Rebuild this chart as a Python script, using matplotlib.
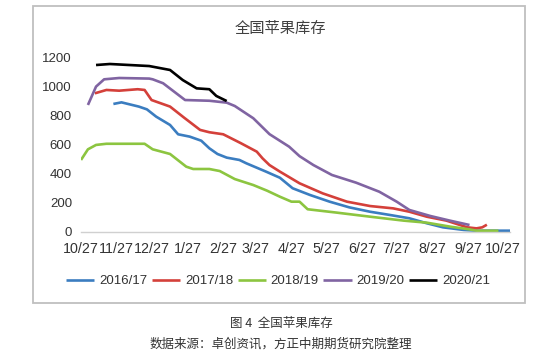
import matplotlib
matplotlib.use("Agg")
import matplotlib.pyplot as plt
from matplotlib.patches import Rectangle
import pandas as pd

plt.rcParams['font.family'] = ['Liberation Sans', 'Noto Sans CJK SC', 'DejaVu Sans']

# 横轴：10/27 起的天数（库存年度），刻度为每月27日
month_ticks = pd.date_range('2018-10-27', periods=13, freq=pd.DateOffset(months=1))
tick_days = [(d - month_ticks[0]).days for d in month_ticks]
tick_labels = [f"{d.month}/{d.day}" for d in month_ticks]

days_1617 = [28, 35, 50, 57, 65, 77, 84, 94, 104, 111, 118, 126, 137, 143, 160, 172,
             183, 198, 215, 232, 250, 267, 284, 299, 313, 331, 342, 371]
stock_1617 = [878, 889, 860, 841, 791, 734, 670, 654, 626, 574, 535, 510, 494, 471, 414, 372,
              300, 254, 208, 169, 139, 117, 94, 60, 32, 14, 9, 9]

days_1718 = [12, 22, 33, 49, 55, 61, 77, 89, 103, 111, 123, 138, 152, 157, 163, 172,
             189, 209, 230, 250, 270, 284, 299, 316, 334, 342, 347, 351]
stock_1718 = [951, 974, 969, 979, 974, 905, 860, 785, 700, 684, 670, 610, 551, 505, 459, 414,
              334, 265, 208, 178, 162, 139, 105, 78, 32, 25, 32, 50]

days_1819 = [0, 6, 13, 22, 55, 62, 77, 91, 97, 111, 120, 133, 149, 161, 172, 182,
             189, 196, 221, 250, 279, 299, 319, 336, 342, 361]
stock_1819 = [494, 567, 597, 605, 605, 567, 535, 448, 432, 432, 418, 363, 322, 283, 242, 208,
              208, 156, 133, 105, 78, 64, 37, 18, 9, 9]

days_1920 = [6, 13, 20, 33, 59, 62, 71, 90, 111, 126, 133, 149, 163, 180, 189, 201,
             217, 238, 258, 273, 284, 302, 319, 336]
stock_1920 = [871, 997, 1047, 1056, 1052, 1047, 1020, 905, 900, 887, 864, 780, 671, 585, 520, 459,
              391, 338, 276, 208, 151, 110, 78, 48]

days_2021 = [13, 25, 59, 77, 88, 100, 111, 117, 126]
stock_2021 = [1145, 1152, 1138, 1111, 1042, 985, 979, 933, 898]

seasons = ['2016/17', '2017/18', '2018/19', '2019/20', '2020/21']
colors = ['#3b7dc0', '#d4403a', '#8cc540', '#8064a2', '#000000']
all_days = [days_1617, days_1718, days_1819, days_1920, days_2021]
all_stock = [stock_1617, stock_1718, stock_1819, stock_1920, stock_2021]

fig = plt.figure(figsize=(5.5, 3.5), dpi=100)
W, H = 550, 350

# 外框
fig.patches.append(Rectangle((33 / W, 1 - 303 / H), (525 - 33) / W, (303 - 6) / H,
                             transform=fig.transFigure, fill=False,
                             edgecolor='#bfbfbf', lw=1.3))

ax = fig.add_axes([81 / W, 1 - 232 / H, (510 - 81) / W, (232 - 57) / H])
for name, c, x, y in zip(seasons, colors, all_days, all_stock):
    ax.plot(x, y, color=c, lw=1.9, label=name, solid_joinstyle='round',
            solid_capstyle='butt')

ax.set_xlim(0, 371)
ax.set_ylim(0, 1200)
ax.set_yticks([0, 200, 400, 600, 800, 1000, 1200])
ax.set_xticks(tick_days, tick_labels)
for s in ['top', 'right', 'left']:
    ax.spines[s].set_visible(False)
ax.spines['bottom'].set_color('#d0d0d0')
ax.spines['bottom'].set_linewidth(1.0)
ax.tick_params(axis='both', length=0, labelcolor='#333333')
ax.tick_params(axis='x', pad=7, labelsize=10.3)
ax.tick_params(axis='y', pad=6.5, labelsize=9.5)

fig.text(280 / W, 1 - 28 / H, '全国苹果库存', ha='center', va='center',
         fontsize=11, color='#404040', family=['Noto Sans CJK SC'])

handles, labels = ax.get_legend_handles_labels()
fig.legend(handles, labels, loc='center', bbox_to_anchor=(278 / W, 1 - 281 / H),
           ncol=5, frameon=False, fontsize=9.5, handlelength=2.15,
           handletextpad=0.35, columnspacing=0.35, labelcolor='#333333')

fig.text(281 / W, 1 - 323 / H, '图 4  全国苹果库存', ha='center', va='center',
         fontsize=9, color='#333333', family=['Noto Sans CJK SC'])
fig.text(281 / W, 1 - 344 / H, '数据来源：卓创资讯，方正中期期货研究院整理', ha='center',
         va='center', fontsize=9, color='#333333', family=['Noto Sans CJK SC'])

fig.savefig('out.png', dpi=100)
